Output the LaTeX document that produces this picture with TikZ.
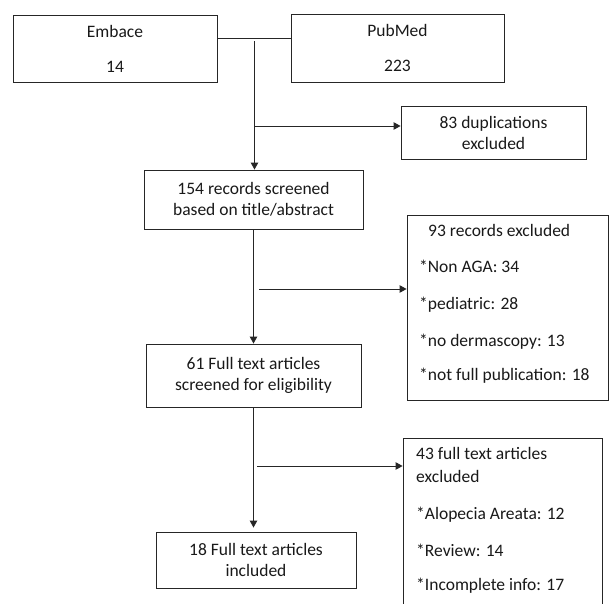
\documentclass[tikz,border=0pt]{standalone}
\usepackage{fontspec}
\setmainfont{Carlito}
\usetikzlibrary{arrows.meta}
\begin{document}
\begin{tikzpicture}[x=1pt,y=-1pt,
  txt/.style={font=\fontsize{17.5}{21}\selectfont, text=black!90},
  box/.style={txt, draw=black!85, line width=0.9pt, inner sep=0pt, align=center},
  lbl/.style={txt, anchor=west, inner sep=0pt, text height=12pt, text depth=4pt},
  conn/.style={draw=black!85, line width=0.9pt},
  arr/.style={conn, -{Triangle[width=7.5pt,length=7pt]}}]
\useasboundingbox (0,0) rectangle (609,603);
\clip (0,0) rectangle (609,603);
\fill[white] (0,0) rectangle (609,603);
% boxes
\node[box, minimum width=204pt, minimum height=67pt] (emb) at (115,48.5) {Embace\\[14pt]14};
\node[box, minimum width=213pt, minimum height=68pt] (pub) at (397.5,48) {PubMed\\[14pt]223};
\node[box, minimum width=185pt, minimum height=53pt] (dup) at (493.5,132.5) {83 duplications\\excluded};
\node[box, minimum width=219pt, minimum height=59pt] (s154) at (253.5,199.5) {154 records screened\\based on title/abstract};
\node[box, minimum width=201pt, minimum height=185pt] (r93) at (507.5,307.5) {};
\node[box, minimum width=215pt, minimum height=63pt] (f61) at (253.5,375.5) {61 Full text articles\\screened for eligibility};
\node[box, minimum width=199pt, minimum height=182pt] (f43) at (502.5,529) {};
\node[box, minimum width=200pt, minimum height=56pt] (f18) at (256,560) {18 Full text articles\\included};
% texts of the exclusion boxes
\node[lbl] (t93a) at (428,232) {93 records excluded};
\node[lbl] (t93b) at (419,268) {*Non AGA: 34};
\node[lbl] (t93c) at (419,305) {*pediatric: 28};
\node[lbl] (t93d) at (419,342) {*no dermascopy: 13};
\node[lbl] (t93e) at (419,376) {*not full publication: 18};
\node[lbl] (t43a) at (416,455) {43 full text articles};
\node[lbl] (t43b) at (416,478) {excluded};
\node[lbl] (t43c) at (416,515) {*Alopecia Areata: 12};
\node[lbl] (t43d) at (416,552) {*Review: 14};
\node[lbl] (t43e) at (416,586) {*Incomplete info: 17};
% connectors
\draw[conn] ([yshift=10.5pt]emb.east) -- ([yshift=10pt]pub.west);
\coordinate (j1) at (254.5,41);
\coordinate (j2) at (254.5,126);
\coordinate (j3) at (259,289);
\coordinate (j4) at (257,466);
\draw[arr] (j1) -- (j1 |- s154.north);
\draw[arr] (j2) -- (j2 -| dup.west);
\draw[arr] (s154.south) -- (f61.north);
\draw[arr] (j3) -- (j3 -| r93.west);
\draw[arr, shorten >=4pt] (f61.south) -- (f61.south |- f18.north);
\draw[arr] (j4) -- (j4 -| f43.west);
\end{tikzpicture}
\end{document}
